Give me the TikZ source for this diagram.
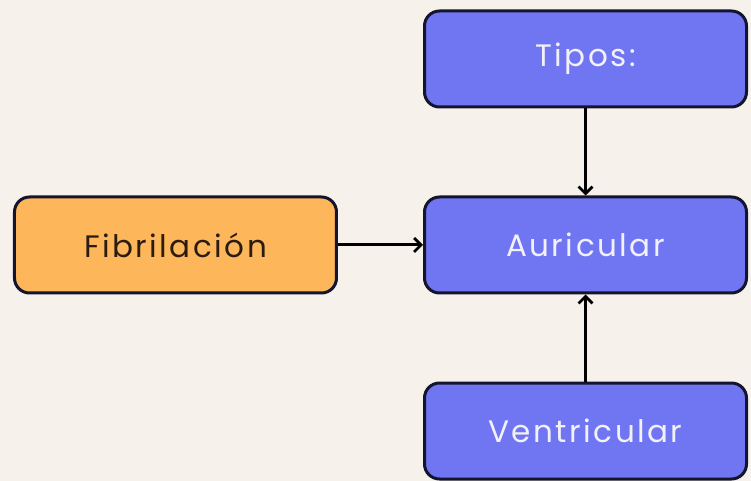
\documentclass[tikz,border=0pt]{standalone}
\usepackage{fontspec}
\setmainfont{Poppins}[LetterSpace=8]
\usepackage{tikz}
\usetikzlibrary{arrows.meta,positioning}

\definecolor{fondo}{HTML}{F6F2EB}
\definecolor{azul}{HTML}{7076F1}
\definecolor{naranja}{HTML}{FDB659}
\definecolor{borde}{HTML}{15142E}
\definecolor{textoclaro}{HTML}{F2F1FA}
\definecolor{textooscuro}{HTML}{2B1C12}

\begin{document}
\begin{tikzpicture}[
	node distance = 186pt and 410pt,
	on grid,
	> = {Straight Barb[length=7pt,width=14pt,line width=2.8pt]},
	caja/.style = {draw=borde, line width=3pt, rounded corners=15pt,
		minimum width=322pt, minimum height=96pt,
		font=\fontsize{31}{36}\selectfont},
	tipo/.style = {caja, fill=azul, text=textoclaro},
	causa/.style = {caja, fill=naranja, text=textooscuro},
	every edge/.style = {draw=black, line width=3pt}
	]
	\useasboundingbox[fill=fondo] (-585.5pt,-236pt) rectangle (165.5pt,245pt);
	\node[tipo] (A) {Auricular};
	\node[tipo] (T) [above=of A] {Tipos:};
	\node[tipo] (V) [below=of A] {Ventricular};
	\node[causa] (F) [left=of A] {Fibrilación};
	\path[->]
	(T) edge (A)
	(V) edge (A)
	(F) edge (A);
\end{tikzpicture}
\end{document}
